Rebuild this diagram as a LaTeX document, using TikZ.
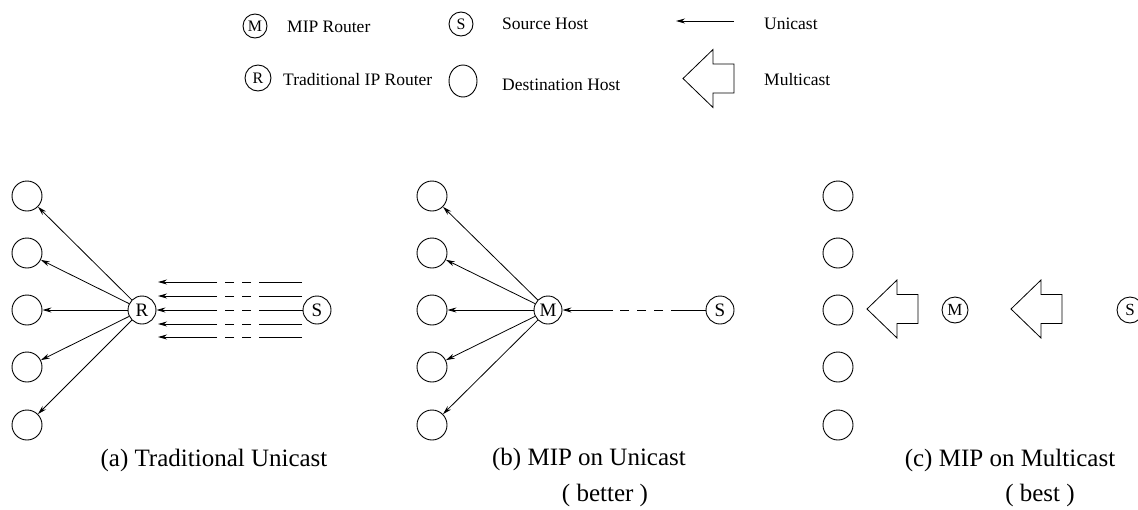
\documentclass[tikz,border=0pt]{standalone}
\usepackage{fontspec}
\setmainfont{Liberation Serif}
\usetikzlibrary{arrows.meta,shapes.geometric}
\begin{document}
\begin{tikzpicture}[x=1pt,y=-1pt,
  host/.style={circle,draw,line width=0.9pt,minimum size=30pt,inner sep=0pt},
  rtr/.style={circle,draw,line width=0.9pt,minimum size=28pt,inner sep=0pt,font=\fontsize{19}{19}\selectfont},
  srtr/.style={circle,draw,line width=0.9pt,minimum size=26pt,inner sep=0pt,font=\fontsize{17}{17}\selectfont},
  lrtr/.style={circle,draw,line width=0.9pt,minimum size=24pt,inner sep=0pt,font=\fontsize{16}{16}\selectfont},
  ltext/.style={anchor=west,inner sep=0pt,font=\fontsize{17.5}{20}\selectfont},
  captext/.style={inner sep=0pt,font=\fontsize{25}{28}\selectfont},
  uni/.style={line width=0.8pt,-{Stealth[length=9pt,width=5pt]}},
  plain/.style={line width=0.8pt},
  dsh/.style={line width=0.8pt,dash pattern=on 9pt off 8pt},
  mcast/.pic={\draw[line width=0.8pt,fill=white] (0,0) -- (30,-29) -- (30,-14.5) -- (51,-14.5) -- (51,14.5) -- (30,14.5) -- (30,29) -- cycle;}]
\useasboundingbox (0,0) rectangle (1138,509);
\clip (0,0) rectangle (1138,509);

% ---------- legend ----------
\node[lrtr] (lM) at (255,26) {M};
\node[ltext] (lMt) at (287,27) {MIP Router};
\node[lrtr,minimum size=26pt] (lR) at (258,78) {R};
\node[ltext] (lRt) at (283,80) {Traditional IP Router};
\node[lrtr] (lS) at (461,24) {S};
\node[ltext] (lSt) at (502,24) {Source Host};
\node[ellipse,draw,line width=0.9pt,minimum width=28pt,minimum height=32pt,inner sep=0pt] (lD) at (463,81) {};
\node[ltext] (lDt) at (502,85) {Destination Host};
\coordinate (lu1) at (734,21);
\coordinate (lu2) at (676,21);
\draw[uni] (lu1) -- (lu2);
\node[ltext] (lUt) at (764,24) {Unicast};
\pic at (683,78.5) {mcast};
\node[ltext] (lMct) at (764,80) {Multicast};

% ---------- panel (a) ----------
\foreach \i/\y in {1/196,2/253,3/310,4/367,5/425}{
  \node[host] (a\i) at (27,\y) {};
}
\node[rtr] (aR) at (142,310) {R};
\node[rtr] (aS) at (317,310) {S};
\foreach \i in {1,...,5}{ \draw[uni] (aR) -- (a\i); }
\foreach \k/\y in {1/282,2/296,4/324,5/337}{
  \coordinate (ap\k) at (302,\y);
  \coordinate (aq\k) at (268,\y);
  \coordinate (ar\k) at (213,\y);
  \coordinate (as\k) at (158,\y);
  \draw[plain] (ap\k) -- (aq\k);
  \draw[dsh] (aq\k) -- (ar\k);
  \draw[uni] (ar\k) -- (as\k);
}
\coordinate (aq3) at (268,310);
\coordinate (ar3) at (213,310);
\draw[plain] (aS) -- (aq3);
\draw[dsh] (aq3) -- (ar3);
\draw[uni] (ar3) -- (aR);

% ---------- panel (b) ----------
\foreach \i/\y in {1/196,2/253,3/310,4/367,5/425}{
  \node[host] (b\i) at (432,\y) {};
}
\node[rtr] (bM) at (548,310) {M};
\node[rtr] (bS) at (720,310) {S};
\foreach \i in {1,...,5}{ \draw[uni] (bM) -- (b\i); }
\coordinate (bq) at (680,310);
\coordinate (br) at (613,310);
\draw[plain] (bS) -- (bq);
\draw[dsh] (bq) -- (br);
\draw[uni] (br) -- (bM);

% ---------- panel (c) ----------
\foreach \i/\y in {1/196,2/253,3/310,4/367,5/425}{
  \node[host] (c\i) at (838,\y) {};
}
\node[srtr] (cM) at (955,310) {M};
\node[srtr] (cS) at (1130,310) {S};
\pic at (867,309) {mcast};
\pic at (1011,309) {mcast};

% ---------- captions ----------
\node[captext] (capa) at (214,460) {(a) Traditional Unicast};
\node[captext] (capb) at (589,459) {(b) MIP on Unicast};
\node[captext] (capb2) at (605,495) {( better )};
\node[captext] (capc) at (1010,460) {(c) MIP on Multicast};
\node[captext] (capc2) at (1040,495) {( best )};
\end{tikzpicture}
\end{document}
